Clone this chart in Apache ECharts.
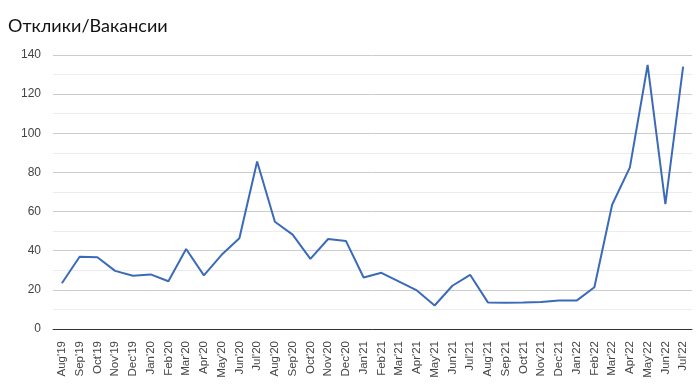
<!DOCTYPE html>
<html><head><meta charset="utf-8">
<script src="https://cdn.jsdelivr.net/npm/echarts@6/dist/echarts.min.js"></script>
<style>html,body{margin:0;padding:0;background:#fff}#c{width:700px;height:386px}</style>
</head><body><div id="c"></div>
<script>
const categories = ["Aug'19","Sep'19","Oct'19","Nov'19","Dec'19","Jan'20","Feb'20","Mar'20","Apr'20","May'20","Jun'20","Jul'20","Aug'20","Sep'20","Oct'20","Nov'20","Dec'20","Jan'21","Feb'21","Mar'21","Apr'21","May'21","Jun'21","Jul'21","Aug'21","Sep'21","Oct'21","Nov'21","Dec'21","Jan'22","Feb'22","Mar'22","Apr'22","May'22","Jun'22","Jul'22"];
const values = [23.4,36.9,36.7,29.7,27.2,27.9,24.4,40.9,27.4,37.9,46.4,85.6,54.8,48.2,35.8,46,45,26.3,28.7,24.2,19.7,12,22.1,27.7,13.6,13.4,13.5,13.8,14.5,14.5,21.3,63.5,82.6,134.9,63.8,134];
const chartTitle = "Отклики/Вакансии";

const chart = echarts.init(document.getElementById('c'));
chart.setOption({
  animation:false,
  title:{text:chartTitle,left:3,top:12,textStyle:{fontFamily:'Lato',fontSize:18,fontWeight:'normal',color:'#111'}},
  grid:{left:53,right:8,top:55,bottom:57},
  xAxis:{type:'category',data:categories,boundaryGap:true,
    axisLine:{lineStyle:{color:'#333',width:1}},axisTick:{show:false},
    axisLabel:{rotate:90,interval:0,margin:12,fontFamily:'Liberation Sans',fontSize:11.5,color:'#444'}},
  yAxis:{type:'value',min:0,max:140,interval:20,
    axisLine:{show:false},axisTick:{show:false},
    axisLabel:{margin:12,fontFamily:'Liberation Sans',fontSize:12,color:'#444'},
    splitLine:{lineStyle:{color:'#ccc'}},
    minorTick:{show:false,splitNumber:2},
    minorSplitLine:{show:true,lineStyle:{color:'#ececec'}}},
  series:[{type:'line',data:values,showSymbol:false,lineStyle:{color:'#3b6bb8',width:2},itemStyle:{color:'#3b6bb8'}}]
});
</script></body></html>
